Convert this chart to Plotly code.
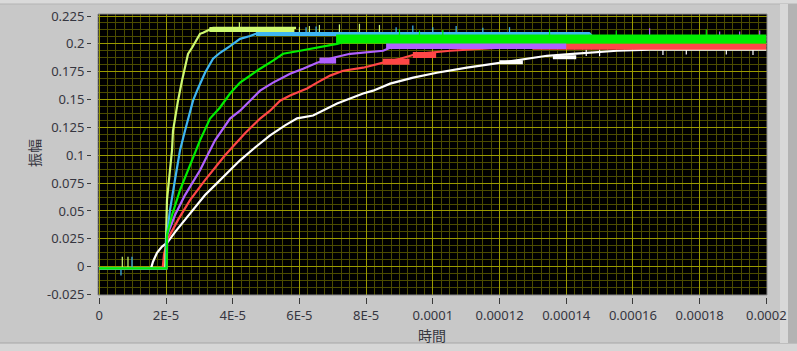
import plotly.graph_objects as go

# ---------------- data (time in seconds, amplitude) ----------------
yellow_x = [0, 1.97e-5, 2.00e-5, 2.03e-5, 2.12e-5, 2.18e-5, 2.21e-5, 2.27e-5, 2.36e-5, 2.48e-5, 2.57e-5,
            2.66e-5, 2.78e-5, 2.87e-5, 3.02e-5, 3.11e-5, 3.41e-5, 5.90e-5]
yellow_y = [-0.0015, -0.0015, 0.024, 0.060, 0.087, 0.1045, 0.122, 0.133, 0.149, 0.167, 0.179,
            0.191, 0.1965, 0.201, 0.209, 0.210, 0.2143, 0.2143]

blue_x = [0, 2.00e-5, 2.01e-5, 2.12e-5, 2.27e-5, 2.42e-5, 2.57e-5, 2.66e-5, 2.81e-5, 2.96e-5, 3.17e-5, 3.41e-5,
          3.62e-5, 3.92e-5, 4.22e-5, 4.52e-5, 4.73e-5, 14.7e-5, 14.8e-5, 20.0e-5]
blue_y = [-0.0015, -0.0015, 0.024, 0.051, 0.078, 0.1045, 0.122, 0.133, 0.149, 0.160, 0.174, 0.1866,
          0.192, 0.198, 0.2045, 0.207, 0.2095, 0.2095, 0.2060, 0.2060]

green_x = [0, 2.02e-5, 2.03e-5, 2.18e-5, 2.42e-5, 2.72e-5, 3.02e-5, 3.32e-5, 3.62e-5, 3.92e-5, 4.22e-5, 4.52e-5,
           4.82e-5, 5.21e-5, 5.51e-5, 6.02e-5, 6.53e-5, 7.13e-5, 7.52e-5, 20.0e-5]
green_y = [-0.0015, -0.0015, 0.0286, 0.0464, 0.0688, 0.0911, 0.1134, 0.133, 0.1429, 0.1554, 0.1652, 0.1715,
           0.1777, 0.1849, 0.1911, 0.1938, 0.1965, 0.200, 0.2036, 0.2045]

purple_x = [0, 2.02e-5, 2.04e-5, 2.27e-5, 2.57e-5, 3.02e-5, 3.47e-5, 3.92e-5, 4.22e-5, 4.52e-5, 4.82e-5, 5.21e-5,
            5.72e-5, 6.11e-5, 6.53e-5, 7.01e-5, 7.52e-5, 8.51e-5, 8.72e-5, 10.52e-5, 14.0e-5, 20.0e-5]
purple_y = [-0.0015, -0.0015, 0.0286, 0.0464, 0.0643, 0.0866, 0.1134, 0.133, 0.140, 0.149, 0.158, 0.1652,
            0.1732, 0.1777, 0.1831, 0.1875, 0.1911, 0.1938, 0.1965, 0.1982, 0.2035, 0.2035]

red_x = [0, 1.90e-5, 1.94e-5, 2.04e-5, 2.36e-5, 2.72e-5, 3.17e-5, 3.77e-5, 4.37e-5, 4.82e-5, 5.12e-5, 5.42e-5,
         5.72e-5, 6.23e-5, 6.53e-5, 6.92e-5, 7.31e-5, 7.91e-5, 8.51e-5, 9.02e-5, 9.53e-5, 10.52e-5, 12.01e-5,
         13.0e-5, 20.0e-5]
red_y = [-0.0015, -0.0015, 0.0107, 0.0241, 0.042, 0.0598, 0.0777, 0.100, 0.1197, 0.133, 0.140, 0.149,
         0.1536, 0.160, 0.1652, 0.1715, 0.1759, 0.1786, 0.1831, 0.1866, 0.1911, 0.1938, 0.1965,
         0.1982, 0.1982]

white_x = [0, 1.55e-5, 1.61e-5, 1.73e-5, 1.88e-5, 2.03e-5, 2.27e-5, 2.57e-5, 2.87e-5, 3.17e-5, 3.47e-5, 3.86e-5,
           4.22e-5, 4.67e-5, 5.12e-5, 5.57e-5, 5.93e-5, 6.41e-5, 6.71e-5, 7.13e-5, 7.52e-5, 7.91e-5, 8.21e-5,
           8.72e-5, 9.41e-5, 10.12e-5, 11.02e-5, 12.01e-5, 12.70e-5, 13.42e-5, 14.20e-5, 15.52e-5, 16.51e-5,
           20.0e-5]
white_y = [-0.0015, -0.0015, 0.0045, 0.0125, 0.018, 0.0214, 0.031, 0.042, 0.0536, 0.0643, 0.0732, 0.0848,
           0.0955, 0.107, 0.1179, 0.1268, 0.1331, 0.1357, 0.140, 0.1465, 0.1509, 0.1554, 0.158,
           0.1643, 0.1697, 0.1741, 0.1786, 0.1831, 0.1866, 0.1893, 0.1911, 0.1938, 0.1947,
           0.1947]

# noisy saturated bands: (start, end, level)
yellow_band = [(3.3e-5, 5.85e-5, 0.2130)]
blue_band = [(4.7e-5, 14.7e-5, 0.2088)]
green_band = [(7.1e-5, 20.0e-5, 0.2043)]
purple_band = [(6.6e-5, 7.1e-5, 0.1850), (8.6e-5, 14.0e-5, 0.1980)]
red_band = [(8.5e-5, 9.3e-5, 0.1840), (9.4e-5, 10.1e-5, 0.1900), (13.0e-5, 20.0e-5, 0.1975)]
white_band = [(12.0e-5, 12.7e-5, 0.1835), (13.6e-5, 14.3e-5, 0.1880)]

# spikes: (time, base, tip)
yellow_spikes = [(0.69e-5, -0.0015, 0.009), (0.86e-5, -0.0015, 0.009), (4.2e-5, 0.214, 0.2195),
                 (6.0e-5, 0.210, 0.2150), (6.3e-5, 0.210, 0.2160), (6.6e-5, 0.210, 0.2170),
                 (7.2e-5, 0.210, 0.2175), (7.8e-5, 0.210, 0.2180), (8.4e-5, 0.210, 0.2170)]
blue_spikes = [(0.65e-5, -0.0015, -0.008), (0.98e-5, -0.0015, 0.009), (6.2e-5, 0.209, 0.2150),
               (6.5e-5, 0.209, 0.2155), (8.9e-5, 0.209, 0.2150), (9.4e-5, 0.209, 0.2165),
               (10.0e-5, 0.209, 0.2150), (10.7e-5, 0.209, 0.2160), (11.5e-5, 0.209, 0.2145), (12.3e-5, 0.209, 0.2150)]
green_spikes = [(9.0e-5, 0.207, 0.2130), (9.6e-5, 0.207, 0.2120), (10.3e-5, 0.207, 0.2125), (13.5e-5, 0.207, 0.2130),
                (15.5e-5, 0.207, 0.2120), (18.2e-5, 0.207, 0.2130)]
purple_spikes = [(16.5e-5, 0.206, 0.2140), (18.6e-5, 0.206, 0.2110), (19.2e-5, 0.206, 0.2110), (19.8e-5, 0.206, 0.2120)]
white_spikes = [(14.6e-5, 0.1947, 0.1890), (15.0e-5, 0.1947, 0.1890), (16.9e-5, 0.1947, 0.1900), (17.6e-5, 0.1947, 0.1905),
                (18.8e-5, 0.1947, 0.1905), (19.6e-5, 0.1947, 0.1900)]

x_tickvals = [0, 2e-5, 4e-5, 6e-5, 8e-5, 1e-4, 1.2e-4, 1.4e-4, 1.6e-4, 1.8e-4, 2e-4]
x_ticktext = ["0", "2E-5", "4E-5", "6E-5", "8E-5", "0.0001", "0.00012", "0.00014", "0.00016", "0.00018", "0.0002"]
y_tickvals = [-0.025, 0, 0.025, 0.05, 0.075, 0.1, 0.125, 0.15, 0.175, 0.2, 0.225]
y_ticktext = ["-0.025", "0", "0.025", "0.05", "0.075", "0.1", "0.125", "0.15", "0.175", "0.2", "0.225"]

# ---------------- styling ----------------
COL = {"white": "#ffffff", "red": "#ff4646", "purple": "#b061ff", "blue": "#3fb6f2",
       "yellow": "#cdf870", "green": "#00ee00"}
BAND_W = {"white": 4, "red": 6, "purple": 6, "blue": 4, "yellow": 5, "green": 9}

series = [
    ("white", white_x, white_y, white_band, white_spikes),
    ("red", red_x, red_y, red_band, []),
    ("purple", purple_x, purple_y, purple_band, purple_spikes),
    ("yellow", yellow_x, yellow_y, yellow_band, yellow_spikes),
    ("blue", blue_x, blue_y, blue_band, blue_spikes),
    ("green", green_x, green_y, green_band, green_spikes),
]

fig = go.Figure()
for name, xs, ys, band, spikes in series:
    fig.add_trace(go.Scatter(x=xs, y=ys, mode="lines", line=dict(color=COL[name], width=2.2),
                             showlegend=False, hoverinfo="skip"))
    if band:
        bx, by = [], []
        for x0, x1, lv in band:
            bx += [x0, x1, None]
            by += [lv, lv, None]
        fig.add_trace(go.Scatter(x=bx, y=by, mode="lines", line=dict(color=COL[name], width=BAND_W[name]),
                                 showlegend=False, hoverinfo="skip"))
    if spikes:
        sx, sy = [], []
        for t, b, tip in spikes:
            sx += [t, t, None]
            sy += [b, tip, None]
        fig.add_trace(go.Scatter(x=sx, y=sy, mode="lines", line=dict(color=COL[name], width=1.2),
                                 showlegend=False, hoverinfo="skip"))

W, H = 797, 351
ML, MR, MT, MB = 80, 30, 14, 46
PW, PH = W - ML - MR, H - MT - MB
def px(v):
    return (v - ML) / PW
def py(v):
    return (H - MB - v) / PH

major = "#9a9a00"
minor = "#4c4c00"
tickfont = dict(family="Noto Sans, Open Sans, sans-serif", size=13, color="#363640")

fig.update_layout(
    width=W, height=H,
    autosize=False,
    margin=dict(l=ML, r=MR, t=MT, b=MB, pad=0, autoexpand=False),
    paper_bgcolor="#c8c8c8",
    plot_bgcolor="#000000",
    showlegend=False,
    xaxis=dict(domain=[px(98), 1], anchor="free", position=py(297), automargin=False,
               range=[-0.039e-5, 20.02e-5], tickmode="array", tickvals=x_tickvals, ticktext=x_ticktext,
               showgrid=True, gridcolor=major, gridwidth=1, zeroline=False, showline=False,
               ticks="outside", ticklen=6, tickwidth=1, tickcolor="#3a3a3a", tickfont=tickfont,
               minor=dict(tickmode="linear", tick0=0, dtick=2.5e-6, showgrid=True, gridcolor=minor,
                          gridwidth=1, ticks="")),
    yaxis=dict(domain=[py(295), 1], anchor="free", position=px(91), automargin=False,
               range=[-0.0254, 0.2268], tickmode="array", tickvals=y_tickvals, ticktext=y_ticktext,
               showgrid=True, gridcolor=major, gridwidth=1, zeroline=False, showline=False,
               ticks="outside", ticklen=4, tickwidth=1, tickcolor="#3a3a3a", tickfont=tickfont,
               minor=dict(tickmode="linear", tick0=0, dtick=0.00625, showgrid=True, gridcolor=minor,
                          gridwidth=1, ticks="")),
)

shapes = [
    dict(type="rect", xref="x domain", yref="y domain", x0=0, x1=1, y0=0, y1=1,
         line=dict(color="#8a8a8a", width=1), layer="above"),
    dict(type="rect", xref="paper", yref="paper", x0=px(0), x1=px(W), y0=py(4), y1=py(0),
         fillcolor="#dadada", line=dict(width=0), layer="below"),
    dict(type="line", xref="paper", yref="paper", x0=px(0), x1=px(W), y0=py(4), y1=py(4),
         line=dict(color="#b4b4b4", width=1), layer="below"),
    dict(type="rect", xref="paper", yref="paper", x0=px(0), x1=px(W), y0=py(H), y1=py(343),
         fillcolor="#d6d6d6", line=dict(width=0), layer="below"),
    dict(type="line", xref="paper", yref="paper", x0=px(0), x1=px(W), y0=py(343), y1=py(343),
         line=dict(color="#a6a6a6", width=1), layer="below"),
    dict(type="rect", xref="paper", yref="paper", x0=px(780), x1=px(788), y0=py(343), y1=py(4),
         fillcolor="#d8d8d8", line=dict(width=0), layer="below"),
    dict(type="rect", xref="paper", yref="paper", x0=px(788), x1=px(W), y0=py(343), y1=py(4),
         fillcolor="#b3b3b3", line=dict(width=0), layer="below"),
]
fig.update_layout(shapes=shapes)

titlefont = dict(family="Noto Sans CJK JP, sans-serif", size=14, color="#363640")
fig.add_annotation(text="時間", xref="paper", yref="paper", x=px(432), y=py(335),
                   showarrow=False, font=titlefont, xanchor="center", yanchor="middle")
fig.add_annotation(text="振幅", xref="paper", yref="paper", x=px(34), y=py(153),
                   showarrow=False, font=titlefont, textangle=-90, xanchor="center", yanchor="middle")

fig.write_html("out.html")
